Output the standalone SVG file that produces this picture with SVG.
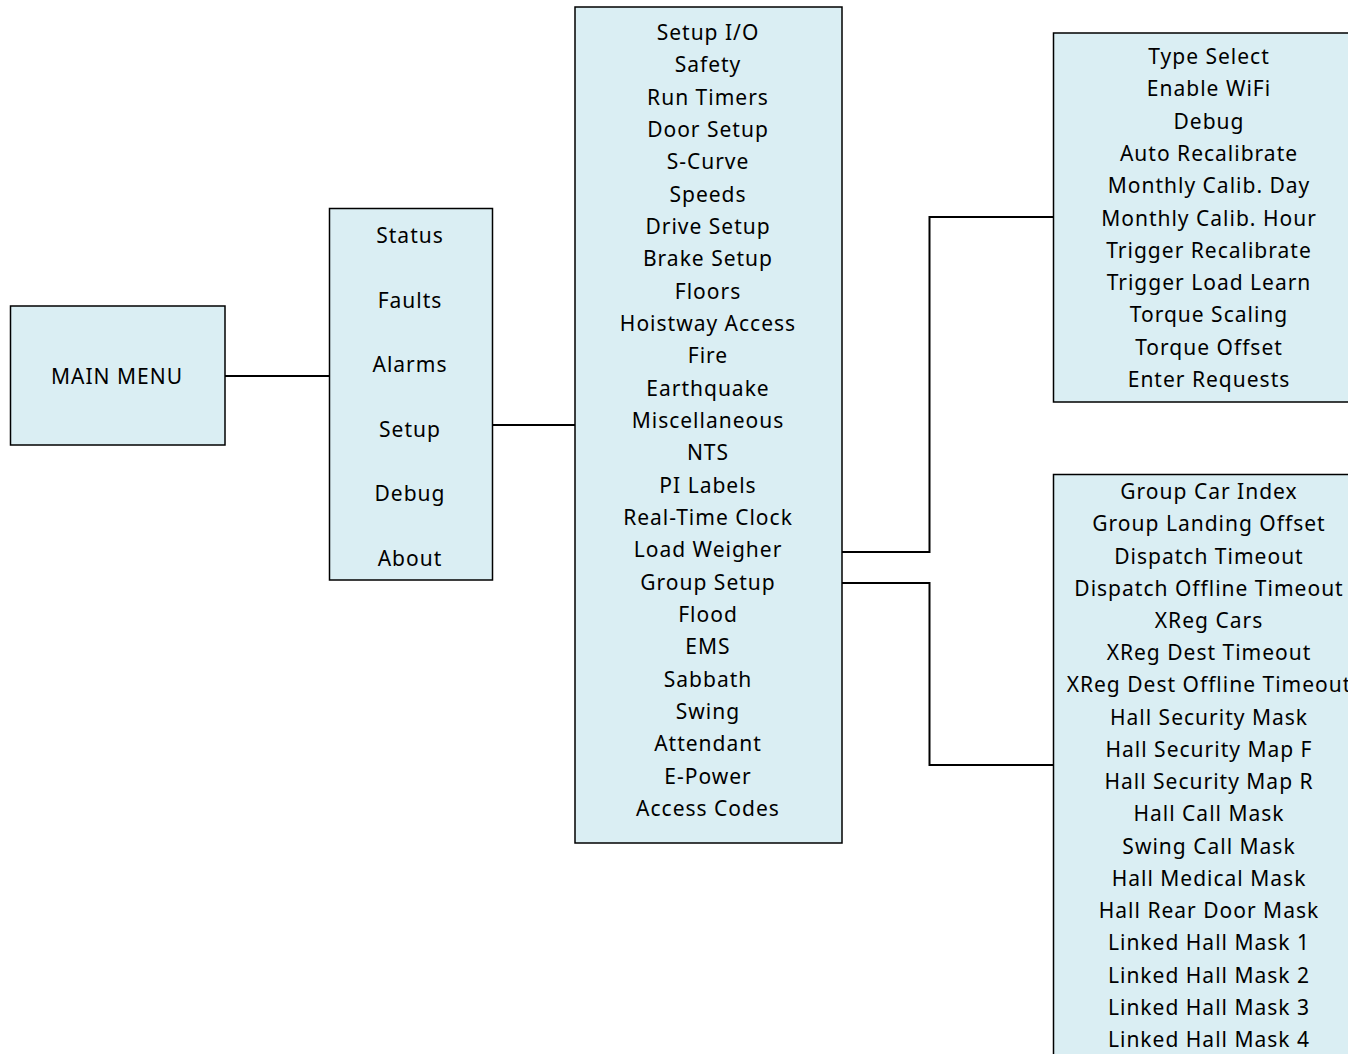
<svg xmlns="http://www.w3.org/2000/svg" width="1348" height="1054" viewBox="0 0 1348 1054">
<style>
.box{fill:#DAEEF3;stroke:#000;stroke-width:1.5}
.t{font-family:"Noto Sans","Open Sans",sans-serif;font-size:21px;fill:#000;text-anchor:middle;letter-spacing:1px}
.c{fill:none;stroke:#000;stroke-width:2}
</style>
<rect x="0" y="0" width="1348" height="1054" fill="#fff"/>
<g id="connectors">
<path class="c" d="M225,376 H329"/>
<path class="c" d="M492.5,425 H575"/>
<path class="c" d="M842,552 H929.5 V217 H1053"/>
<path class="c" d="M842,583 H929.5 V765 H1053"/>
</g>
<g id="main-menu">
<rect class="box" x="10.5" y="306" width="214.5" height="139"/>
<text class="t" x="117" y="384">MAIN MENU</text>
</g>
<g id="menu">
<rect class="box" x="329.5" y="208.5" width="163" height="371.5"/>
<text class="t" x="410" y="243">Status</text>
<text class="t" x="410" y="307.5">Faults</text>
<text class="t" x="410" y="372">Alarms</text>
<text class="t" x="410" y="437">Setup</text>
<text class="t" x="410" y="501">Debug</text>
<text class="t" x="410" y="566">About</text>
</g>
<g id="setup">
<rect class="box" x="575" y="7" width="267" height="836"/>
<g class="t">
<text class="t" x="708" y="40">Setup I/O</text>
<text class="t" x="708" y="72.3">Safety</text>
<text class="t" x="708" y="104.7">Run Timers</text>
<text class="t" x="708" y="137">Door Setup</text>
<text class="t" x="708" y="169.3">S-Curve</text>
<text class="t" x="708" y="201.7">Speeds</text>
<text class="t" x="708" y="234">Drive Setup</text>
<text class="t" x="708" y="266.3">Brake Setup</text>
<text class="t" x="708" y="298.7">Floors</text>
<text class="t" x="708" y="331">Hoistway Access</text>
<text class="t" x="708" y="363.3">Fire</text>
<text class="t" x="708" y="395.7">Earthquake</text>
<text class="t" x="708" y="428">Miscellaneous</text>
<text class="t" x="708" y="460.3">NTS</text>
<text class="t" x="708" y="492.7">PI Labels</text>
<text class="t" x="708" y="525">Real-Time Clock</text>
<text class="t" x="708" y="557.3">Load Weigher</text>
<text class="t" x="708" y="589.7">Group Setup</text>
<text class="t" x="708" y="622">Flood</text>
<text class="t" x="708" y="654.3">EMS</text>
<text class="t" x="708" y="686.7">Sabbath</text>
<text class="t" x="708" y="719">Swing</text>
<text class="t" x="708" y="751.3">Attendant</text>
<text class="t" x="708" y="783.7">E-Power</text>
<text class="t" x="708" y="816">Access Codes</text>
</g>
</g>
<g id="load-weigher">
<rect class="box" x="1053.5" y="33" width="300" height="369"/>
<text class="t" x="1209" y="64">Type Select</text>
<text class="t" x="1209" y="96.3">Enable WiFi</text>
<text class="t" x="1209" y="128.6">Debug</text>
<text class="t" x="1209" y="160.9">Auto Recalibrate</text>
<text class="t" x="1209" y="193.2">Monthly Calib. Day</text>
<text class="t" x="1209" y="225.5">Monthly Calib. Hour</text>
<text class="t" x="1209" y="257.8">Trigger Recalibrate</text>
<text class="t" x="1209" y="290.1">Trigger Load Learn</text>
<text class="t" x="1209" y="322.4">Torque Scaling</text>
<text class="t" x="1209" y="354.7">Torque Offset</text>
<text class="t" x="1209" y="387">Enter Requests</text>
</g>
<g id="group-setup">
<rect class="box" x="1053.5" y="474.5" width="300" height="600"/>
<text class="t" x="1209" y="499">Group Car Index</text>
<text class="t" x="1209" y="531.2">Group Landing Offset</text>
<text class="t" x="1209" y="563.5">Dispatch Timeout</text>
<text class="t" x="1209" y="595.7">Dispatch Offline Timeout</text>
<text class="t" x="1209" y="628">XReg Cars</text>
<text class="t" x="1209" y="660.2">XReg Dest Timeout</text>
<text class="t" x="1209" y="692.4">XReg Dest Offline Timeout</text>
<text class="t" x="1209" y="724.7">Hall Security Mask</text>
<text class="t" x="1209" y="756.9">Hall Security Map F</text>
<text class="t" x="1209" y="789.2">Hall Security Map R</text>
<text class="t" x="1209" y="821.4">Hall Call Mask</text>
<text class="t" x="1209" y="853.6">Swing Call Mask</text>
<text class="t" x="1209" y="885.9">Hall Medical Mask</text>
<text class="t" x="1209" y="918.1">Hall Rear Door Mask</text>
<text class="t" x="1209" y="950.4">Linked Hall Mask 1</text>
<text class="t" x="1209" y="982.6">Linked Hall Mask 2</text>
<text class="t" x="1209" y="1014.8">Linked Hall Mask 3</text>
<text class="t" x="1209" y="1047">Linked Hall Mask 4</text>
</g>
</svg>
